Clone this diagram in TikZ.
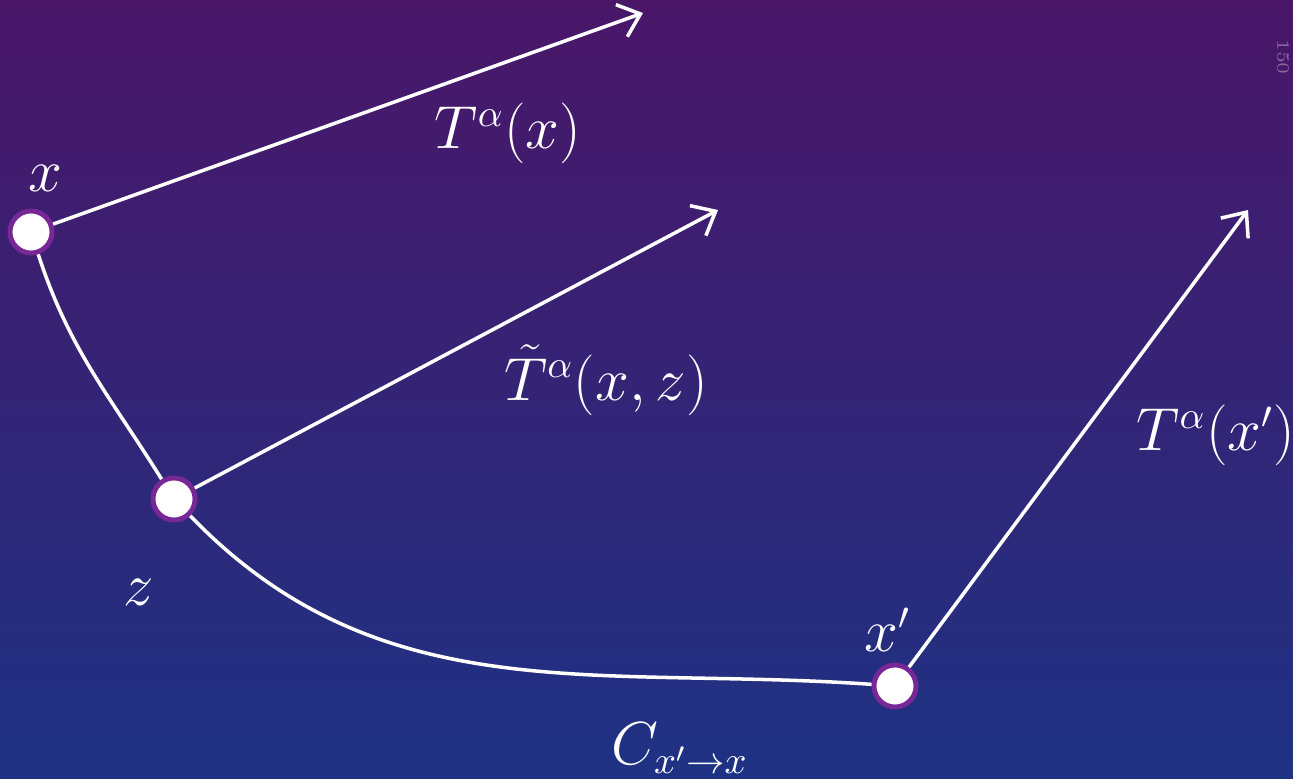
\documentclass[tikz,border=0pt]{standalone}
\usetikzlibrary{positioning,arrows.meta}

\definecolor{bgtop}{RGB}{74,22,104}
\definecolor{bgmid}{RGB}{52,32,118}
\definecolor{bgbot}{RGB}{30,50,132}
\definecolor{ringpurple}{RGB}{120,40,150}

\tikzset{
  pt/.style={circle, fill=white, draw=ringpurple, line width=1.4pt, minimum size=0.42cm, inner sep=0pt},
  vec/.style={white, line width=1pt, -{Straight Barb[length=2mm,width=3.4mm,line width=1pt]}},
  path line/.style={white, line width=1pt},
  lbl/.style={text=white, font=\fontsize{16}{19}\selectfont},
}

\begin{document}
\begin{tikzpicture}[x=0.01cm, y=-0.01cm]

%% 背景
\useasboundingbox (0,0) rectangle (1293,779);
\shade[top color=bgtop, middle color=bgmid, bottom color=bgbot] (0,0) rectangle (1293,779);
\node[text=white, opacity=0.35, font=\tiny, rotate=-90] (pagenum) at (1283,57) {150};

%% 点
\node[pt] (x) at (31,232) {};
\node[pt] (z) at (174,499) {};
\node[pt] (xp) at (895,686) {};

%% 端点
\coordinate (tx) at (643,13);
\coordinate (tz) at (718,210);
\coordinate (txp) at (1248,210);

%% 曲線
\draw[path line] (x) to[out=-72, in=122] (z);
\draw[path line] (z) to[out=-46, in=176] (xp);

%% 矢印
\draw[vec] (x) -- (tx);
\draw[vec] (z) -- (tz);
\draw[vec] (xp) -- (txp);

%% ラベル
\node[lbl] (lx) at (45,178) {$x$};
\node[lbl] (lz) at (139,592) {$z$};
\node[lbl] (lxp) at (888,630) {$x'$};
\node[lbl] (ltx) at (508,133) {$T^{\alpha}(x)$};
\node[lbl] (ltz) at (606,380) {$\tilde{T}^{\alpha}(x,z)$};
\node[lbl] (ltxp) at (1216,435) {$T^{\alpha}(x')$};
\node[lbl] (lc) at (680,748) {$C_{x'\to x}$};

\end{tikzpicture}
\end{document}
